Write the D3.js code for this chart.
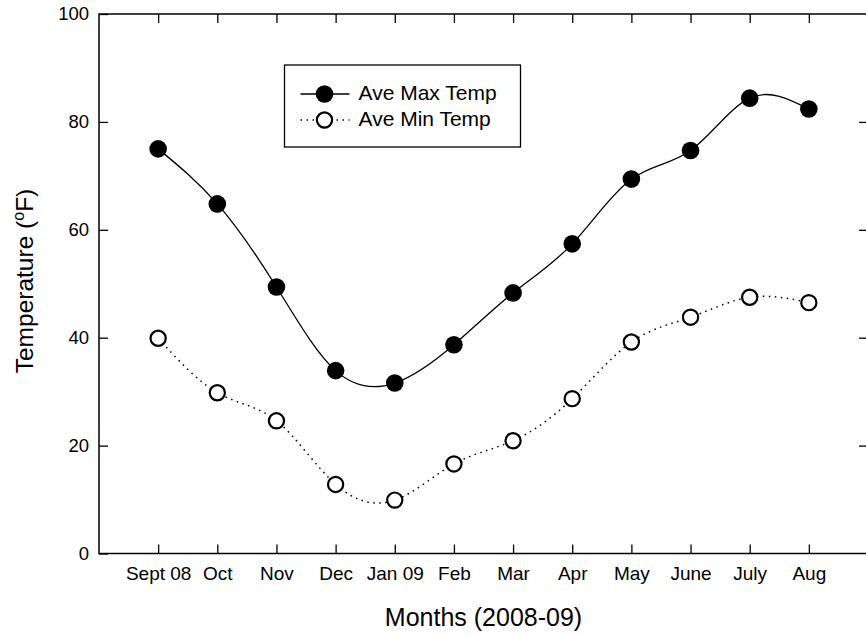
<!DOCTYPE html>
<html>
<head>
<meta charset="utf-8">
<script src="https://cdnjs.cloudflare.com/ajax/libs/d3/7.8.5/d3.min.js"></script>
<style>
  body { margin: 0; background: #fff; }
  svg text { font-family: Arial, "Liberation Sans", sans-serif; fill: #000; }
</style>
</head>
<body>
<div id="svg_area"></div>
<script>
// month labels along the x axis
var months = ["Sept 08","Oct","Nov","Dec","Jan 09","Feb","Mar","Apr","May","June","July","Aug"];

// monthly averages
var maxTemp = [75.0, 64.8, 49.4, 33.9, 31.6, 38.7, 48.3, 57.4, 69.4, 74.7, 84.4, 82.4];
var minTemp = [39.9, 29.8, 24.6, 12.8, 9.9, 16.6, 20.9, 28.7, 39.2, 43.8, 47.5, 46.5];

var yTicks = [0, 20, 40, 60, 80, 100];
var legend_titles = ["Ave Max Temp", "Ave Min Temp"];

var svg = d3.select('#svg_area').append("svg").attr("width", 866).attr("height", 635);
var margin = {top: 14, right: -2, bottom: 81.5, left: 99};
var svg_width = +svg.attr("width") - margin.left - margin.right;
var svg_height = +svg.attr("height") - margin.top - margin.bottom;
var g = svg.append("g").attr("transform", "translate(" + margin.left + "," + margin.top + ")");

// one empty slot at each end, like the original frame
var x = d3.scaleLinear().domain([-1, months.length]).range([0, svg_width]);
var y = d3.scaleLinear().domain([0, 100]).range([svg_height, 0]);
var idx = d3.range(months.length);

function styleAxis(sel) {
  sel.select(".domain").remove();
  sel.selectAll(".tick line").attr("stroke", "#000").attr("stroke-width", 1.3);
  sel.selectAll(".tick text").attr("font-size", "19px").attr("fill", "#000");
}

// bottom axis
g.append("g")
  .attr("transform", "translate(0," + svg_height + ")")
  .call(d3.axisBottom(x).tickValues(idx).tickSize(-9).tickPadding(13.5)
    .tickFormat(function(i) { return months[i]; }))
  .call(styleAxis);

// top axis, ticks only
g.append("g")
  .call(d3.axisTop(x).tickValues(idx).tickSize(-9).tickFormat(""))
  .call(styleAxis);

// left axis
g.append("g")
  .call(d3.axisLeft(y).tickValues(yTicks).tickSize(-9).tickPadding(10))
  .call(styleAxis)
  .selectAll(".tick text").attr("font-size", "18.5px");

// right axis, ticks only
g.append("g")
  .attr("transform", "translate(" + svg_width + ",0)")
  .call(d3.axisRight(y).tickValues(yTicks.slice(1, -1)).tickSize(-9).tickFormat(""))
  .call(styleAxis);

// frame
g.append("rect")
  .attr("width", svg_width).attr("height", svg_height)
  .attr("fill", "none").attr("stroke", "#000").attr("stroke-width", 1.5);

var maxLine = d3.line()
  .curve(d3.curveNatural)
  .x(function(i) { return x(i); })
  .y(function(i) { return y(maxTemp[i]); });

var minLine = d3.line()
  .curve(d3.curveNatural)
  .x(function(i) { return x(i); })
  .y(function(i) { return y(minTemp[i]); });

g.append("path")
  .datum(idx)
  .attr("fill", "none")
  .attr("stroke", "#000")
  .attr("stroke-width", 1.5)
  .attr("stroke-dasharray", "1.5,4.5")
  .attr("d", minLine);

g.append("path")
  .datum(idx)
  .attr("fill", "none")
  .attr("stroke", "#000")
  .attr("stroke-width", 1.3)
  .attr("d", maxLine);

g.selectAll(".max-pt")
  .data(idx)
  .enter()
  .append("circle")
  .attr("class", "max-pt")
  .attr("r", 8.8)
  .attr("fill", "#000")
  .attr("cx", function(i) { return x(i); })
  .attr("cy", function(i) { return y(maxTemp[i]); });

g.selectAll(".min-pt")
  .data(idx)
  .enter()
  .append("circle")
  .attr("class", "min-pt")
  .attr("r", 7.6)
  .attr("fill", "#fff")
  .attr("stroke", "#000")
  .attr("stroke-width", 2.2)
  .attr("cx", function(i) { return x(i); })
  .attr("cy", function(i) { return y(minTemp[i]); });

// axis titles
svg.append("text")
  .attr("x", margin.left + x(5.5))
  .attr("y", 626)
  .attr("text-anchor", "middle")
  .attr("font-size", "25px")
  .text("Months (2008-09)");

var yt = svg.append("text")
  .attr("transform", "translate(33,281) rotate(-90)")
  .attr("text-anchor", "middle")
  .attr("font-size", "24.5px");
yt.append("tspan").text("Temperature (");
yt.append("tspan").attr("font-size", "16px").attr("dy", "-9").text("o");
yt.append("tspan").attr("dy", "9").text("F)");

// legend
var legend = svg.append("g").attr("transform", "translate(284.5,65)");
legend.append("rect")
  .attr("width", 236).attr("height", 82)
  .attr("fill", "#fff").attr("stroke", "#000").attr("stroke-width", 1.3);

for (var i = 0; i < 2; i++) {
  var ly = 29 + 26 * i;
  legend.append("line")
    .attr("x1", 16).attr("x2", 65)
    .attr("y1", ly).attr("y2", ly)
    .attr("stroke", "#000")
    .attr("stroke-width", i == 0 ? 1.3 : 1.5)
    .attr("stroke-dasharray", i == 0 ? null : "1.5,4.5");
  legend.append("circle")
    .attr("cx", 40).attr("cy", ly)
    .attr("r", i == 0 ? 8.8 : 7.6)
    .attr("fill", i == 0 ? "#000" : "#fff")
    .attr("stroke", "#000")
    .attr("stroke-width", i == 0 ? 0 : 2.2);
  legend.append("text")
    .attr("x", 74).attr("y", ly + 5.5)
    .attr("font-size", "21px")
    .text(legend_titles[i]);
}
</script>
</body>
</html>
